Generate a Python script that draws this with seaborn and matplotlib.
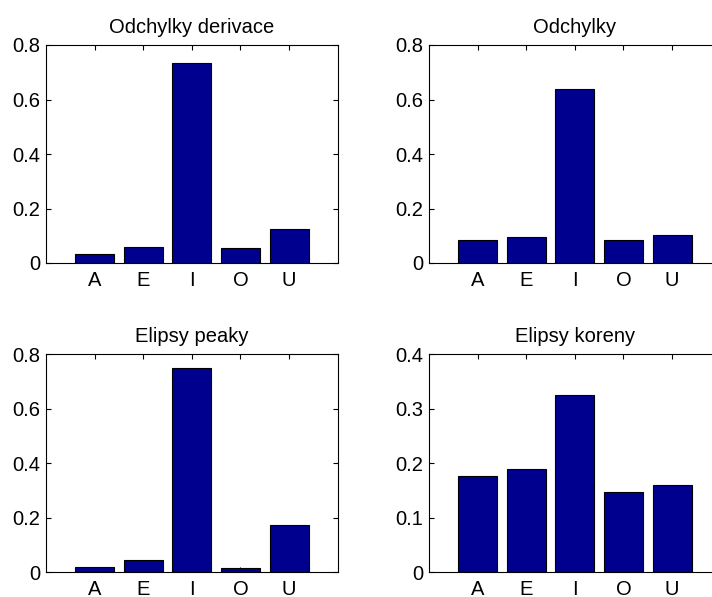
import matplotlib
matplotlib.use("Agg")
import matplotlib.pyplot as plt
import seaborn as sns
import pandas as pd

categories = ["A", "E", "I", "O", "U"]
odchylky_derivace = [0.033, 0.057, 0.733, 0.055, 0.123]
odchylky = [0.083, 0.095, 0.637, 0.086, 0.101]
elipsy_peaky = [0.019, 0.044, 0.751, 0.015, 0.173]
elipsy_koreny = [0.177, 0.190, 0.326, 0.148, 0.161]

titles = ["Odchylky derivace", "Odchylky", "Elipsy peaky", "Elipsy koreny"]
yticks_big = [0, 0.2, 0.4, 0.6, 0.8]
yticklabels_big = ["0", "0.2", "0.4", "0.6", "0.8"]
yticks_small = [0, 0.1, 0.2, 0.3, 0.4]
yticklabels_small = ["0", "0.1", "0.2", "0.3", "0.4"]

sns.set_theme(style="white")
plt.rcParams["font.family"] = ["Liberation Sans", "DejaVu Sans"]

W, H = 712, 597
fig = plt.figure(figsize=(W / 100, H / 100), dpi=100)

ax_w = 291.7 / W
ax_h = 218.0 / H
lefts = [46 / W, 429 / W]
bottoms = [(H - 263) / H, (H - 572.3) / H]

series = [odchylky_derivace, odchylky, elipsy_peaky, elipsy_koreny]
positions = [(lefts[0], bottoms[0]), (lefts[1], bottoms[0]),
             (lefts[0], bottoms[1]), (lefts[1], bottoms[1])]

bar_color = "#00008F"
FS = 14.5

for i, (vals, title, pos) in enumerate(zip(series, titles, positions)):
    ax = fig.add_axes([pos[0], pos[1], ax_w, ax_h])
    df = pd.DataFrame({"cat": categories, "val": vals})
    sns.barplot(data=df, x="cat", y="val", ax=ax, color=bar_color,
                saturation=1, width=0.8, edgecolor="black", linewidth=0.8)
    ax.set_xlim(-1, 5)
    if i == 3:
        ax.set_ylim(0, 0.4)
        ax.set_yticks(yticks_small)
        ax.set_yticklabels(yticklabels_small)
    else:
        ax.set_ylim(0, 0.8)
        ax.set_yticks(yticks_big)
        ax.set_yticklabels(yticklabels_big)
    ax.set_xlabel("")
    ax.set_ylabel("")
    ax.set_title(title, fontsize=FS, pad=8.5, color="black")
    for s in ax.spines.values():
        s.set_visible(True)
        s.set_color("black")
        s.set_linewidth(0.8)
    ax.tick_params(axis="both", direction="in", length=3.5, width=0.8,
                   top=True, right=True, bottom=True, left=True,
                   labelsize=FS, colors="black", labelcolor="black")
    ax.tick_params(axis="x", pad=5.8)
    ax.tick_params(axis="y", pad=4.3)
    ax.set_facecolor("white")

fig.savefig("out.png", dpi=100, facecolor="white")
